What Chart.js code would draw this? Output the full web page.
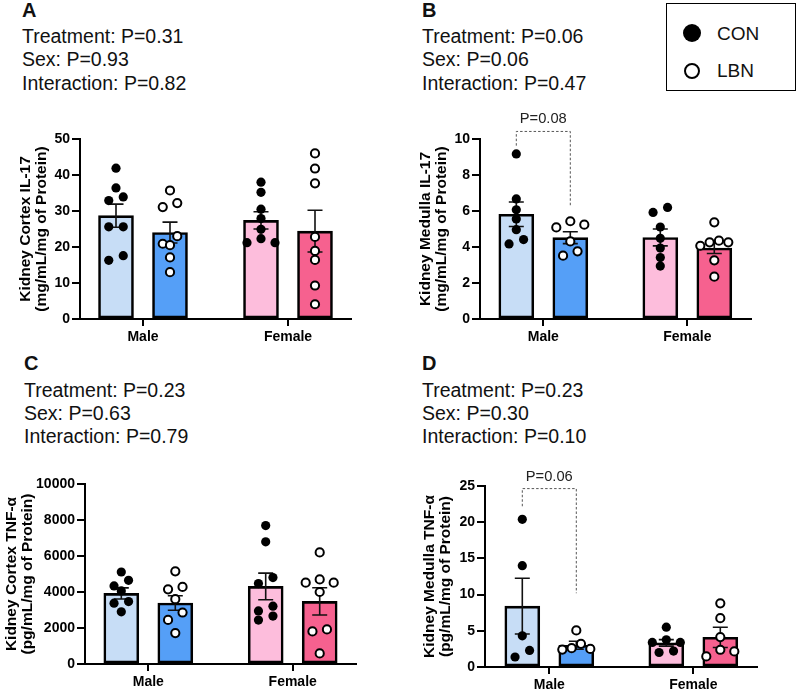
<!DOCTYPE html>
<html>
<head>
<meta charset="utf-8">
<script src="https://cdn.jsdelivr.net/npm/chart.js@4.4.1/dist/chart.umd.min.js"></script>
<style>
  body { margin: 0; background: #fff; width: 798px; height: 690px; position: relative; overflow: hidden;
         font-family: "Liberation Sans", Arial, sans-serif; color: #111; }
  canvas { position: absolute; }
  .letter { position: absolute; font-size: 20px; font-weight: bold; line-height: 24px; }
  .stat { position: absolute; font-size: 19.5px; line-height: 24px; white-space: nowrap; }
  #legend { position: absolute; left: 666px; top: 3px; width: 128px; height: 86px; border: 1.5px solid #000; }
  .dot { position: absolute; border-radius: 50%; box-sizing: border-box; }
  .lg { position: absolute; font-size: 19px; line-height: 22px; }
</style>
</head>
<body>

<div class="letter" style="left:22px;top:-2px">A</div>
<div class="stat" style="left:22px;top:24px">Treatment: P=0.31</div>
<div class="stat" style="left:22px;top:47px">Sex: P=0.93</div>
<div class="stat" style="left:22px;top:71px">Interaction: P=0.82</div>

<div class="letter" style="left:422px;top:-2px">B</div>
<div class="stat" style="left:422px;top:24px">Treatment: P=0.06</div>
<div class="stat" style="left:422px;top:47px">Sex: P=0.06</div>
<div class="stat" style="left:422px;top:71px">Interaction: P=0.47</div>

<div class="letter" style="left:24px;top:351px">C</div>
<div class="stat" style="left:24px;top:378px">Treatment: P=0.23</div>
<div class="stat" style="left:24px;top:401px">Sex: P=0.63</div>
<div class="stat" style="left:24px;top:424px">Interaction: P=0.79</div>

<div class="letter" style="left:422px;top:351px">D</div>
<div class="stat" style="left:422px;top:378px">Treatment: P=0.23</div>
<div class="stat" style="left:422px;top:401px">Sex: P=0.30</div>
<div class="stat" style="left:422px;top:424px">Interaction: P=0.10</div>

<div id="legend">
  <div class="dot" style="left:16px;top:20px;width:18px;height:18px;background:#000"></div>
  <div class="lg" style="left:50px;top:19px">CON</div>
  <div class="dot" style="left:17px;top:59px;width:16px;height:16px;border:2.5px solid #000;background:#fff"></div>
  <div class="lg" style="left:50px;top:56px">LBN</div>
</div>

<script>
// --- Dados ---
const groups = ['Male', 'Female'];

// A: Kidney Cortex IL-17
const cortexIl17MaleCon = [41.9, 36.4, 33.9, 32.9, 25.6, 25.6, 17.6, 16.3];
const cortexIl17MaleLbn = [35.7, 32.2, 31.1, 23.0, 20.9, 20.5, 17.1, 13.0];
const cortexIl17FemaleCon = [38.0, 35.2, 30.5, 27.9, 24.9, 22.3, 21.2, 21.2];
const cortexIl17FemaleLbn = [46.0, 41.8, 37.7, 22.8, 18.9, 16.4, 9.3, 4.1];
const cortexIl17Mean = [28.7, 24.0, 27.4, 24.4];
const cortexIl17Sem = [3.2, 2.9, 2.4, 5.8];

// B: Kidney Medulla IL-17
const medullaIl17MaleCon = [9.17, 6.67, 6.07, 5.56, 4.96, 4.41, 4.17];
const medullaIl17MaleLbn = [5.43, 5.24, 5.09, 4.31, 3.76, 3.52];
const medullaIl17FemaleCon = [6.2, 5.92, 5.11, 4.48, 3.94, 3.41, 2.94];
const medullaIl17FemaleLbn = [5.37, 4.35, 4.26, 4.26, 4.07, 3.26, 2.35];
const medullaIl17Mean = [5.82, 4.52, 4.53, 3.94];
const medullaIl17Sem = [0.68, 0.33, 0.47, 0.3];

// C: Kidney Cortex TNF-α
const cortexTnfMaleCon = [5110, 4650, 4340, 4060, 3470, 3380, 2900];
const cortexTnfMaleLbn = [5150, 4280, 4150, 3600, 2860, 2450, 1720];
const cortexTnfFemaleCon = [7690, 6790, 4800, 4470, 3210, 2950, 2660, 2440];
const cortexTnfFemaleLbn = [6200, 4700, 4520, 4520, 4000, 1920, 1810, 590];
const cortexTnfMean = [3920, 3390, 4310, 3480];
const cortexTnfSem = [310, 400, 740, 760];

// D: Kidney Medulla TNF-α
const medullaTnfMaleCon = [20.4, 14.0, 4.3, 2.29, 1.38];
const medullaTnfMaleLbn = [5.05, 3.2, 2.6, 2.5, 2.4];
const medullaTnfFemaleCon = [5.5, 3.76, 3.39, 3.39, 2.2, 2.0];
const medullaTnfFemaleLbn = [8.8, 6.74, 4.13, 2.38, 2.15, 1.46];
const medullaTnfMean = [8.4, 3.0, 3.33, 4.1];
const medullaTnfSem = [3.85, 0.55, 0.45, 1.4];

// comparações (Male CON vs Male LBN): níveis em unidades do eixo y
const medullaIl17Bracket = { label: 'P=0.08', levels: [9.63, 10.42, 6.3] };
const medullaTnfBracket = { label: 'P=0.06', levels: [22.2, 24.64, 10.19] };

const FONT = '"Liberation Sans", Arial, sans-serif';
const barColors = ['#c7ddf6', '#559ff7', '#fdbddc', '#f6618f'];

const panels = [
  { yMax: 50, yStep: 10, title: ['Kidney Cortex IL-17', '(mg/mL/mg of Protein)'],
    con: [cortexIl17MaleCon, cortexIl17FemaleCon], lbn: [cortexIl17MaleLbn, cortexIl17FemaleLbn],
    mean: cortexIl17Mean, sem: cortexIl17Sem, bracket: null,
    box: { left: 80, top: 139, right: 351, bottom: 319, male: 143, female: 288, axisW: 63 } },
  { yMax: 10, yStep: 2, title: ['Kidney Medulla IL-17', '(mg/mL/mg of Protein)'],
    con: [medullaIl17MaleCon, medullaIl17FemaleCon], lbn: [medullaIl17MaleLbn, medullaIl17FemaleLbn],
    mean: medullaIl17Mean, sem: medullaIl17Sem, bracket: medullaIl17Bracket,
    box: { left: 480, top: 139.3, right: 751, bottom: 319.3, male: 543.3, female: 687.3, axisW: 63 } },
  { yMax: 10000, yStep: 2000, title: ['Kidney Cortex TNF-α', '(pg/mL/mg of Protein)'],
    con: [cortexTnfMaleCon, cortexTnfFemaleCon], lbn: [cortexTnfMaleLbn, cortexTnfFemaleLbn],
    mean: cortexTnfMean, sem: cortexTnfSem, bracket: null,
    box: { left: 85, top: 484.3, right: 356, bottom: 665, male: 148.3, female: 292.7, axisW: 82 } },
  { yMax: 25, yStep: 5, title: ['Kidney Medulla TNF-α', '(pg/mL/mg of Protein)'],
    con: [medullaTnfMaleCon, medullaTnfFemaleCon], lbn: [medullaTnfMaleLbn, medullaTnfFemaleLbn],
    mean: medullaTnfMean, sem: medullaTnfSem, bracket: medullaTnfBracket,
    box: { left: 485, top: 485.7, right: 757, bottom: 667.3, male: 549.3, female: 693.3, axisW: 64 } }
];

// espalha os pontos parecidos lado a lado (tipo GraphPad)
function swarm(values, pxPerUnit) {
  const sorted = values.slice().sort((a, b) => b - a);
  const rows = [];
  sorted.forEach(v => {
    const row = rows[rows.length - 1];
    if (row && (row[0] - v) * pxPerUnit < 8) row.push(v);
    else rows.push([v]);
  });
  const out = [];
  rows.forEach(row => {
    const n = row.length;
    if (n === 1) { out.push({ y: row[0], dx: 0 }); return; }
    const d = Math.min(14.5, 28 / (n - 1));
    const slots = [];
    for (let i = 0; i < n; i++) slots.push((i - (n - 1) / 2) * d);
    // ordem: centro, direita, esquerda, ...
    const order = slots.slice().sort((a, b) => Math.abs(a) - Math.abs(b) || b - a);
    row.forEach((v, i) => out.push({ y: v, dx: order[i] }));
  });
  return out;
}

function buildPanel(p) {
  const b = p.box;
  const spacing = b.female - b.male;
  const xMin = -(b.male - b.left) / spacing;
  const xMax = 1 + (b.right - b.female) / spacing;
  const barOff = 27 / spacing;
  const pxPerUnit = (b.bottom - b.top) / p.yMax;
  const padTop = 45, padRight = 30, xAxisH = 32;

  const canvas = document.createElement('canvas');
  canvas.width = b.axisW + (b.right - b.left) + padRight;
  canvas.height = padTop + (b.bottom - b.top) + xAxisH;
  canvas.style.left = (b.left - b.axisW) + 'px';
  canvas.style.top = (b.top - padTop) + 'px';
  document.body.appendChild(canvas);

  const barData = [], conPts = [], lbnPts = [];
  groups.forEach((g, gi) => {
    barData.push({ x: gi - barOff, y: p.mean[gi * 2] });
    barData.push({ x: gi + barOff, y: p.mean[gi * 2 + 1] });
    swarm(p.con[gi], pxPerUnit).forEach(pt => conPts.push({ x: gi - barOff + pt.dx / spacing, y: pt.y }));
    swarm(p.lbn[gi], pxPerUnit).forEach(pt => lbnPts.push({ x: gi + barOff + pt.dx / spacing, y: pt.y }));
  });

  const errorBars = {
    id: 'errorBars',
    afterDatasetDraw(chart, args) {
      if (args.meta.type !== 'bar') return;
      const ctx = chart.ctx, ys = chart.scales.y;
      ctx.save();
      ctx.strokeStyle = '#111';
      ctx.lineWidth = 1.6;
      args.meta.data.forEach((el, i) => {
        const hi = ys.getPixelForValue(p.mean[i] + p.sem[i]);
        const lo = ys.getPixelForValue(p.mean[i] - p.sem[i]);
        ctx.beginPath();
        ctx.moveTo(el.x, hi); ctx.lineTo(el.x, lo);
        ctx.moveTo(el.x - 7.5, hi); ctx.lineTo(el.x + 7.5, hi);
        ctx.moveTo(el.x - 7.5, lo); ctx.lineTo(el.x + 7.5, lo);
        ctx.stroke();
      });
      ctx.restore();
    }
  };

  const bracket = {
    id: 'bracket',
    afterDatasetsDraw(chart) {
      if (!p.bracket) return;
      const ctx = chart.ctx, xs = chart.scales.x, ys = chart.scales.y;
      const x1 = xs.getPixelForValue(-barOff), x2 = xs.getPixelForValue(barOff);
      const [l, t, r] = p.bracket.levels.map(v => ys.getPixelForValue(v));
      ctx.save();
      ctx.strokeStyle = '#555';
      ctx.lineWidth = 1;
      ctx.setLineDash([2.5, 2]);
      ctx.beginPath();
      ctx.moveTo(x1, l); ctx.lineTo(x1, t); ctx.lineTo(x2, t); ctx.lineTo(x2, r);
      ctx.stroke();
      ctx.setLineDash([]);
      ctx.fillStyle = '#222';
      ctx.font = '14.7px ' + FONT;
      ctx.textAlign = 'center';
      ctx.textBaseline = 'alphabetic';
      ctx.fillText(p.bracket.label, (x1 + x2) / 2, t - 8);
      ctx.restore();
    }
  };

  return new Chart(canvas.getContext('2d'), {
    type: 'bar',
    data: {
      datasets: [
        { type: 'scatter', label: 'CON', data: conPts, order: 0, clip: false,
          pointRadius: 4.6, pointHoverRadius: 4.6, backgroundColor: '#000', borderColor: '#000', borderWidth: 0 },
        { type: 'scatter', label: 'LBN', data: lbnPts, order: 0, clip: false,
          pointRadius: 4.1, pointHoverRadius: 4.1, backgroundColor: '#fff', borderColor: '#000', borderWidth: 2 },
        { type: 'bar', label: 'mean', data: barData, order: 1,
          backgroundColor: barColors, borderColor: '#000', borderWidth: 2.6, borderSkipped: false, barThickness: 35 }
      ]
    },
    options: {
      responsive: false,
      animation: false,
      devicePixelRatio: 1,
      layout: { padding: { top: padTop, right: padRight, left: 0, bottom: 0 } },
      plugins: { legend: { display: false }, tooltip: { enabled: false } },
      scales: {
        x: {
          type: 'linear', min: xMin, max: xMax, offset: false,
          afterFit: s => { s.height = xAxisH; },
          afterBuildTicks: s => { s.ticks = [{ value: 0 }, { value: 1 }]; },
          ticks: { callback: v => groups[v], font: { family: FONT, size: 14, weight: 'bold' },
                   color: '#000', padding: 3, maxRotation: 0, autoSkip: false },
          grid: { display: true, offset: false, drawOnChartArea: false, drawTicks: true, tickLength: 7, color: '#000', lineWidth: 2 },
          border: { display: true, color: '#000', width: 2 }
        },
        y: {
          type: 'linear', min: 0, max: p.yMax,
          afterFit: s => { s.width = b.axisW; },
          ticks: { stepSize: p.yStep, callback: v => String(v),
                   font: { family: FONT, size: 14, weight: 'bold' }, color: '#000', padding: 2 },
          grid: { drawOnChartArea: false, tickLength: 8, color: '#000', lineWidth: 2 },
          border: { color: '#000', width: 2 },
          title: { display: true, text: p.title, color: '#000', padding: 0,
                   font: { family: FONT, size: 15.5, weight: 'bold', lineHeight: 1.07 } }
        }
      }
    },
    plugins: [errorBars, bracket]
  });
}

panels.forEach(buildPanel);
</script>
</body>
</html>
